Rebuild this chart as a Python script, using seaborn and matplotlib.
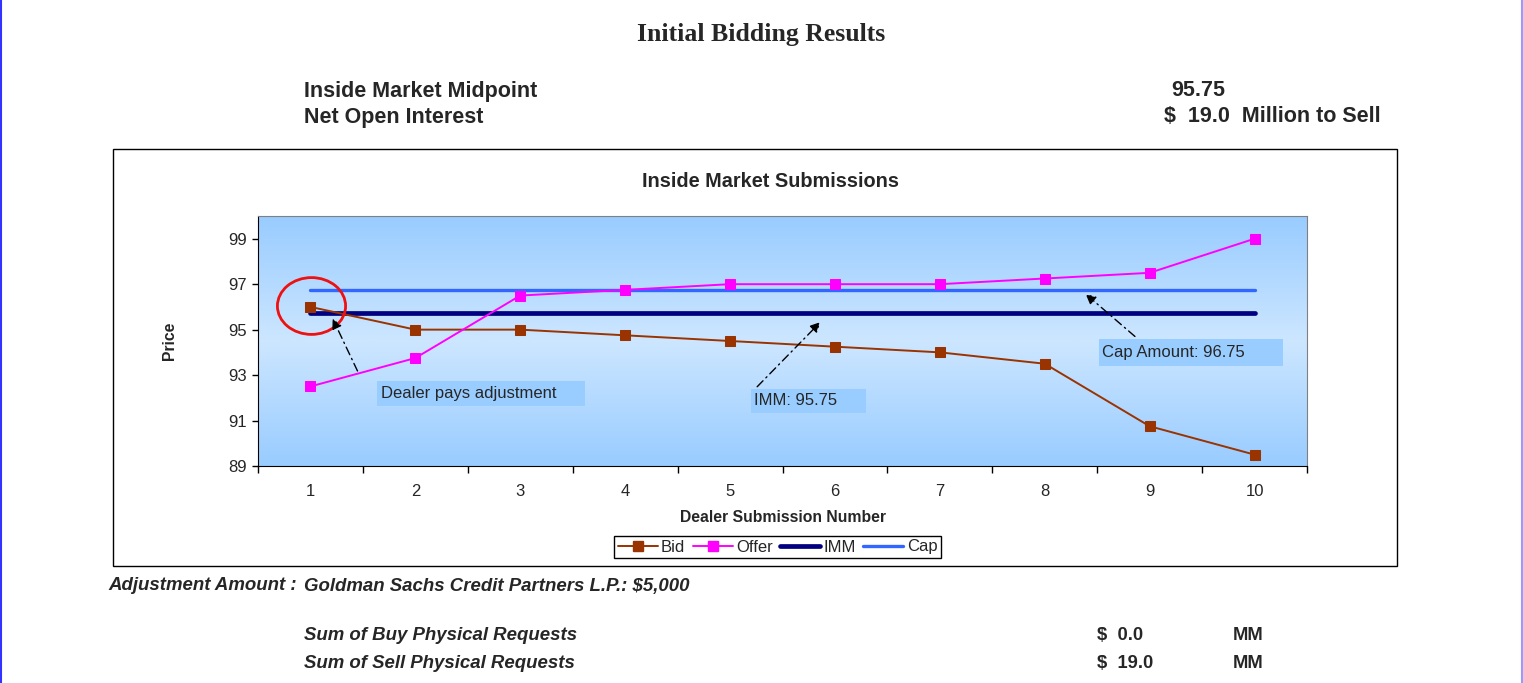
import numpy as np
import pandas as pd
import seaborn as sns
import matplotlib.pyplot as plt
from matplotlib.patches import Rectangle, Ellipse
from matplotlib.lines import Line2D
from matplotlib.colors import LinearSegmentedColormap

# data
dealers = [1, 2, 3, 4, 5, 6, 7, 8, 9, 10]
bid = [96.0, 95.0, 95.0, 94.75, 94.5, 94.25, 94.0, 93.5, 90.75, 89.5]
offer = [92.5, 93.75, 96.5, 96.75, 97.0, 97.0, 97.0, 97.25, 97.5, 99.0]
imm_value = 95.75
cap_value = 96.75
y_ticks = [89, 91, 93, 95, 97, 99]

sns.set_style("white")
plt.rcParams["font.family"] = ["Liberation Sans", "DejaVu Sans"]

W, H = 1523, 683
fig = plt.figure(figsize=(W / 100, H / 100), dpi=100)


def fx(px):
    return px / W


def fy(py):
    return 1 - py / H


# page borders
fig.add_artist(Line2D([fx(1), fx(1)], [0, 1], color="#3333ff", lw=1.5))
fig.add_artist(Line2D([fx(1521.5), fx(1521.5)], [0, 1], color="#9999ff", lw=1.5))

# header text
fig.text(fx(761), fy(34), "Initial Bidding Results", family="Liberation Serif",
         weight="bold", fontsize=18.5, ha="center", va="center")
fig.text(fx(304), fy(91), "Inside Market Midpoint", weight="bold", fontsize=15.5, va="center")
fig.text(fx(304), fy(117), "Net Open Interest", weight="bold", fontsize=15.5, va="center")
fig.text(fx(1225), fy(91), "95.75", weight="bold", fontsize=15.5, ha="right", va="center")
fig.text(fx(1381), fy(117), "$  19.0  Million to Sell", weight="bold", fontsize=15.5,
         ha="right", va="center")

# chart frame
fig.add_artist(Rectangle((fx(113), fy(566)), fx(1397 - 113), (566 - 149) / H,
                         transform=fig.transFigure, fill=False, ec="black", lw=1))
fig.text(fx(770), fy(182), "Inside Market Submissions", weight="bold", fontsize=14.3,
         ha="center", va="center")

ax = fig.add_axes([fx(258), fy(466), fx(1307 - 258), (466 - 216) / H])

# background gradient
grad = np.concatenate([np.linspace(0, 1, 50), np.linspace(1, 0, 50)]).reshape(-1, 1)
cmap = LinearSegmentedColormap.from_list("bg", ["#99ccff", "#cce6ff"])
ax.imshow(grad, aspect="auto", cmap=cmap, extent=[0, 1, 0, 1],
          transform=ax.transAxes, zorder=0)

df = pd.DataFrame({"dealer": dealers, "bid": bid, "offer": offer,
                   "imm": [imm_value] * len(dealers), "cap": [cap_value] * len(dealers)})

sns.lineplot(data=df, x="dealer", y="bid", ax=ax, color="#993300", lw=1.4,
             marker="s", markersize=7.5, markeredgecolor="#993300", zorder=3)
sns.lineplot(data=df, x="dealer", y="offer", ax=ax, color="#ff00ff", lw=1.4,
             marker="s", markersize=7.5, markeredgecolor="#ff00ff", zorder=3)
sns.lineplot(data=df, x="dealer", y="imm", ax=ax, color="#000080", lw=3.4, zorder=2)
sns.lineplot(data=df, x="dealer", y="cap", ax=ax, color="#3366ff", lw=2.4, zorder=2)

ax.set_xlim(0.5, 10.5)
ax.set_ylim(89, 100)
ax.set_yticks(y_ticks)
ax.set_xticks(dealers)
ax.set_xticks(np.arange(0.5, 11, 1), minor=True)
ax.tick_params(axis="x", which="major", length=0, labelsize=12, pad=13)
ax.tick_params(axis="x", which="minor", length=5, width=1, color="black", direction="out")
ax.tick_params(axis="y", length=4, width=1, color="black", direction="out", labelsize=12, pad=4)
ax.tick_params(bottom=True, left=True, which="both")
for s in ["left", "bottom"]:
    ax.spines[s].set_color("black")
for s in ["top", "right"]:
    ax.spines[s].set_color("#808080")
ax.set_xlabel("Dealer Submission Number", weight="bold", fontsize=11.3, labelpad=8)
ax.set_ylabel("Price", weight="bold", fontsize=11.3, labelpad=37)

# annotations
ax.add_patch(Ellipse((1.01, 96.04), 0.65, 2.5, fill=False, ec="#ee1111", lw=2, zorder=5))

arrow = dict(arrowstyle="-|>", linestyle=(0, (6, 3, 1, 3)), color="black", lw=1,
             mutation_scale=15)
ax.annotate("", xy=(1.2, 95.6), xytext=(1.46, 93.07), arrowprops=arrow, zorder=6)
ax.annotate("", xy=(5.88, 95.42), xytext=(5.24, 92.4), arrowprops=arrow, zorder=6)
ax.annotate("", xy=(8.37, 96.65), xytext=(8.88, 94.62), arrowprops=arrow, zorder=6)

boxes = [
    (1.63, 91.65, 3.62, 92.76, 1.67, 92.2, "Dealer pays adjustment"),
    (5.20, 91.35, 6.30, 92.41, 5.23, 91.88, "IMM: 95.75"),
    (8.52, 93.42, 10.27, 94.58, 8.55, 94.0, "Cap Amount: 96.75"),
]
for x0, y0, x1, y1, tx, ty, label in boxes:
    ax.add_patch(Rectangle((x0, y0), x1 - x0, y1 - y0, fc="#99ccff", ec="none", zorder=4))
    ax.text(tx, ty, label, fontsize=12, va="center", ha="left", zorder=5)

# legend
handles = [
    Line2D([], [], color="#993300", lw=1.4, marker="s", markersize=7.5),
    Line2D([], [], color="#ff00ff", lw=1.4, marker="s", markersize=7.5),
    Line2D([], [], color="#000080", lw=3.4),
    Line2D([], [], color="#3366ff", lw=2.4),
]
leg = fig.legend(handles, ["Bid", "Offer", "IMM", "Cap"], loc="center",
                 bbox_to_anchor=(fx(777.5), fy(547)), ncol=4, fontsize=12,
                 frameon=True, fancybox=False, edgecolor="black", framealpha=1,
                 handlelength=2.4, handletextpad=0.2, columnspacing=0.45,
                 borderpad=0.2, borderaxespad=0)
leg.get_frame().set_linewidth(1)

# footer text
fig.text(fx(297), fy(586), "Adjustment Amount :", weight="bold", style="italic",
         fontsize=13.4, ha="right", va="center")
fig.text(fx(304), fy(586), "Goldman Sachs Credit Partners L.P.: $5,000", weight="bold",
         style="italic", fontsize=13.4, va="center")
fig.text(fx(304), fy(636), "Sum of Buy Physical Requests", weight="bold", style="italic",
         fontsize=13.4, va="center")
fig.text(fx(304), fy(664), "Sum of Sell Physical Requests", weight="bold", style="italic",
         fontsize=13.4, va="center")
fig.text(fx(1097), fy(636), "$  0.0", weight="bold", fontsize=13.2, va="center")
fig.text(fx(1097), fy(664), "$  19.0", weight="bold", fontsize=13.2, va="center")
fig.text(fx(1233), fy(636), "MM", weight="bold", fontsize=13.2, va="center")
fig.text(fx(1233), fy(664), "MM", weight="bold", fontsize=13.2, va="center")

fig.savefig("out.png", dpi=100)
